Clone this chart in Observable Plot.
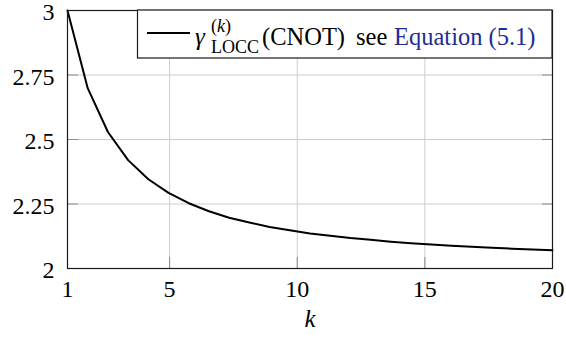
<!DOCTYPE html>
<html>
<head>
<meta charset="utf-8">
<script src="https://cdn.jsdelivr.net/npm/d3@7"></script>
<script src="https://cdn.jsdelivr.net/npm/@observablehq/plot@0.6"></script>
<style>
  html, body { margin: 0; padding: 0; background: #fff; }
  #chart { width: 566px; height: 341px; }
  #chart svg text, #chart svg tspan { font-family: "Liberation Serif", serif !important; }
</style>
</head>
<body>
<div id="chart"></div>
<script>
// Curve samples (k, gamma)
const kValues = [1, 1.7917, 2.5833, 3.375, 4.1667, 4.9583, 5.75, 6.5417, 7.3333, 8.125,
  8.9167, 9.7083, 10.5, 11.2917, 12.0833, 12.875, 13.6667, 14.4583, 15.25, 16.0417,
  16.8333, 17.625, 18.4167, 19.2083, 20];
const gammaValues = [3.000, 2.699, 2.529, 2.420, 2.346, 2.293, 2.253, 2.222, 2.197, 2.178,
  2.161, 2.148, 2.136, 2.127, 2.118, 2.111, 2.104, 2.098, 2.093, 2.088,
  2.084, 2.080, 2.077, 2.074, 2.071];

const xTickLabels = [1, 5, 10, 15, 20];
const yTickLabels = [2, 2.25, 2.5, 2.75, 3];
const xGrid = [5, 10, 15];
const yGrid = [2.25, 2.5, 2.75];

const data = kValues.map((k, i) => ({k, g: gammaValues[i]}));

const gridColor = "#cccccc";
const tickColor = "#8c8c8c";

const chart = Plot.plot({
  width: 566,
  height: 341,
  marginLeft: 67,
  marginRight: 14,
  marginTop: 10,
  marginBottom: 73,
  x: {domain: [1, 20]},
  y: {domain: [2, 3]},
  style: {fontFamily: "Liberation Serif", fontSize: "24px", color: "#000", background: "#fff", overflow: "visible"},
  marks: [
    Plot.gridX(xGrid, {stroke: gridColor, strokeOpacity: 1, strokeWidth: 1}),
    Plot.gridY(yGrid, {stroke: gridColor, strokeOpacity: 1, strokeWidth: 1}),
    // inward tick marks on all four sides
    Plot.axisX({anchor: "bottom", ticks: xGrid, tickSize: -11, text: null, label: null, stroke: tickColor}),
    Plot.axisX({anchor: "top", ticks: xGrid, tickSize: -11, text: null, label: null, stroke: tickColor}),
    Plot.axisY({anchor: "left", ticks: yGrid, tickSize: -11, text: null, label: null, stroke: tickColor}),
    Plot.axisY({anchor: "right", ticks: yGrid, tickSize: -11, text: null, label: null, stroke: tickColor}),
    // tick labels
    Plot.axisX({anchor: "bottom", ticks: xTickLabels, tickSize: 0, tickPadding: 11,
      tickFormat: d => String(d), label: null, fontSize: 24}),
    Plot.axisY({anchor: "left", ticks: yTickLabels, tickSize: 0, tickPadding: 13, dy: 2,
      tickFormat: d => String(d), label: null, fontSize: 24}),
    Plot.line(data, {x: "k", y: "g", stroke: "#000", strokeWidth: 2}),
    Plot.frame({stroke: "#1a1a1a", strokeWidth: 1.2}),
    Plot.text(["k"], {frameAnchor: "bottom", dy: 58, fontStyle: "italic", fontSize: 25, fill: "#000"})
  ]
});

document.getElementById("chart").appendChild(chart);

// Legend box (inside the plot, top-right)
const svg = d3.select(chart);
const lg = svg.append("g").attr("class", "legend").attr("fill", "#000").attr("text-anchor", "start");
lg.append("rect").attr("x", 137.5).attr("y", 10).attr("width", 414.5).attr("height", 48)
  .attr("fill", "#fff").attr("stroke", "#1a1a1a").attr("stroke-width", 1.2);
lg.append("line").attr("x1", 147).attr("x2", 190).attr("y1", 33).attr("y2", 33)
  .attr("stroke", "#000").attr("stroke-width", 2);
lg.append("text").attr("x", 195).attr("y", 45).attr("font-size", 25).attr("font-style", "italic").text("γ");
const sup = lg.append("text").attr("x", 211).attr("y", 32).attr("font-size", 18);
sup.append("tspan").text("(");
sup.append("tspan").attr("font-style", "italic").text("k");
sup.append("tspan").text(")");
lg.append("text").attr("x", 211).attr("y", 53).attr("font-size", 18).text("LOCC");
lg.append("text").attr("x", 262).attr("y", 45).attr("font-size", 24.5).text("(CNOT)");
lg.append("text").attr("x", 356).attr("y", 45).attr("font-size", 24.5).text("see");
lg.append("text").attr("x", 394).attr("y", 45).attr("font-size", 24.5).attr("fill", "#232c94").text("Equation (5.1)");
</script>
</body>
</html>
